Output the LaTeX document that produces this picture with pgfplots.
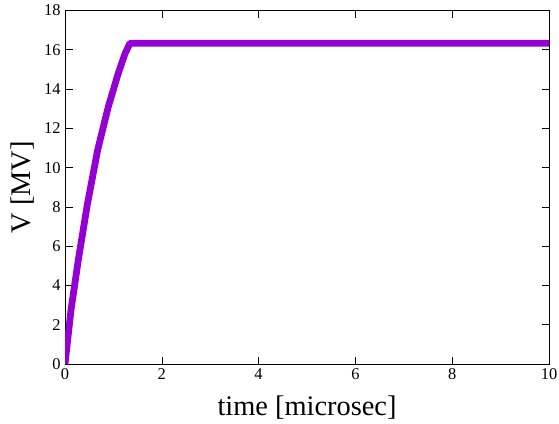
\documentclass[border=0pt]{standalone}
\usepackage{pgfplots}
\pgfplotsset{compat=1.18}
\usepackage{fontspec}
\setmainfont{Liberation Serif}
\definecolor{dv}{RGB}{148,0,211}
\begin{document}
\begin{tikzpicture}[x=1bp,y=1bp]
\path[use as bounding box] (-65,-59) rectangle (494,364);
\begin{axis}[
  scale only axis,
  width=484bp, height=353.5bp,
  at={(0,0)}, anchor=south west,
  xmin=0, xmax=10, ymin=0, ymax=18,
  xtick={0,2,4,6,8,10}, ytick={0,2,4,6,8,10,12,14,16,18},
  tick align=inside, major tick length=7.5bp,
  tick style={black, line width=0.6pt},
  axis line style={black, line width=0.8pt},
  /pgf/number format/assume math mode=true,
  ticklabel style={font=\fontsize{16.5}{18}\selectfont},
  xlabel={time [microsec]}, ylabel={V [MV]},
  label style={font=\fontsize{28.5}{32}\selectfont},
  xlabel style={at={(axis description cs:0.5,0)}, anchor=center, yshift=-44bp},
  ylabel style={at={(axis description cs:0,0.5)}, anchor=center, yshift=42bp},
  xticklabel style={yshift=-1bp},
  yticklabel style={xshift=-1bp},
]
\addplot[dv, line width=6.8pt, line join=round, line cap=butt] coordinates {
(0,0) (0.124,2.75) (0.275,5.3) (0.46,8.1) (0.675,10.9) (0.895,13.1) (1.10,14.8) (1.24,15.8) (1.34,16.33) (10,16.33)
};
\end{axis}
\end{tikzpicture}
\end{document}
